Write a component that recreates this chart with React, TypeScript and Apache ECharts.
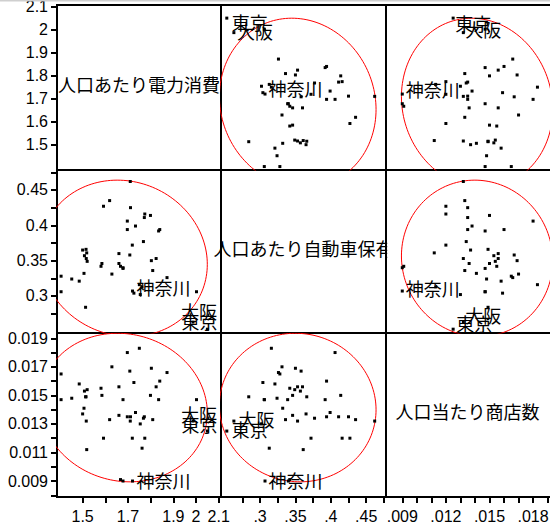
import React, { useEffect, useRef } from 'react';
import * as echarts from 'echarts';

// ---- data -------------------------------------------------------------
const variableNames = ['人口あたり電力消費', '人口あたり自動車保有', '人口当たり商店数'];
// the first three entries of each series are the labelled prefectures
const labeledNames = ['東京', '大阪', '神奈川'];

const electricity = [
  2.050, 1.987, 1.720, 1.750, 1.697, 1.629, 1.803, 1.708, 1.872, 1.405,
  1.726, 1.840, 1.485, 1.660, 1.581, 1.508, 1.520, 1.585, 1.799, 1.405,
  1.452, 1.513, 1.678, 1.835, 2.002, 1.506, 1.500, 1.733, 1.697, 1.711,
  1.660, 1.772, 1.768, 1.809, 1.619, 1.516, 1.710, 1.754, 1.592, 1.719,
  1.774, 1.762, 1.518, 1.667, 1.824, 1.515, 1.678,
];
const cars = [
  0.253, 0.263, 0.307, 0.316, 0.406, 0.331, 0.350, 0.358, 0.326, 0.328,
  0.304, 0.394, 0.321, 0.360, 0.342, 0.357, 0.349, 0.346, 0.414, 0.306,
  0.324, 0.284, 0.339, 0.392, 0.306, 0.332, 0.365, 0.399, 0.394, 0.425,
  0.346, 0.411, 0.377, 0.336, 0.435, 0.353, 0.462, 0.302, 0.427, 0.372,
  0.416, 0.313, 0.361, 0.342, 0.353, 0.366, 0.340,
];
const shops = [
  0.0125, 0.0132, 0.0090, 0.0183, 0.0180, 0.0170, 0.0169, 0.0167, 0.0166, 0.0165,
  0.0159, 0.0160, 0.0158, 0.0156, 0.0155, 0.0153, 0.0154, 0.0150, 0.0150, 0.0147,
  0.0148, 0.0149, 0.0147, 0.0147, 0.0147, 0.0141, 0.0137, 0.0138, 0.0135, 0.0135,
  0.0136, 0.0135, 0.0134, 0.0133, 0.0133, 0.0132, 0.0132, 0.0130, 0.0120, 0.0120,
  0.0120, 0.0113, 0.0112, 0.0091, 0.0156, 0.0149, 0.0090,
];

// tick values and their label texts ('' = tick without label)
const elecTicks = [1.5, 1.6, 1.7, 1.8, 1.9, 2.0, 2.1];
const elecXLabels = ['1.5', '', '1.7', '', '1.9', '2', '2.1'];
const elecYLabels = ['1.5', '1.6', '1.7', '1.8', '1.9', '2', '2.1'];
const carTicks = [0.275, 0.3, 0.325, 0.35, 0.375, 0.4, 0.425, 0.45, 0.475];
const carXLabels = ['', '.3', '', '.35', '', '.4', '', '.45', ''];
const carYLabels = ['', '0.3', '', '0.35', '', '0.4', '', '0.45', ''];
const shopXTicks = [0.009, 0.010, 0.011, 0.012, 0.013, 0.014, 0.015, 0.016, 0.017, 0.018, 0.019];
const shopXLabels = ['.009', '', '', '.012', '', '', '.015', '', '', '.018', ''];
const shopYTicks = [0.008, 0.009, 0.010, 0.011, 0.012, 0.013, 0.014, 0.015, 0.016, 0.017, 0.018, 0.019];
const shopYLabels = ['', '0.009', '', '0.011', '', '0.013', '', '0.015', '', '0.017', '', '0.019'];

// ---- layout / style ----------------------------------------------------
const series3 = [electricity, cars, shops];
const xTickSets = [
  { ticks: elecTicks, labels: elecXLabels },
  { ticks: carTicks, labels: carXLabels },
  { ticks: shopXTicks, labels: shopXLabels },
];
const yTickSets = [
  { ticks: elecTicks, labels: elecYLabels },
  { ticks: carTicks, labels: carYLabels },
  { ticks: shopYTicks, labels: shopYLabels },
];
const xRanges = [[1.387, 2.11], [0.2448, 0.478], [0.00788, 0.01937]];
const yRanges = [[1.39, 2.107], [0.2476, 0.4783], [0.00788, 0.01937]];
const cols = [{ left: 57, width: 164 }, { left: 221, width: 165 }, { left: 386, width: 167 }];
const rows = [{ top: 5, height: 165 }, { top: 170, height: 163 }, { top: 333, height: 164 }];

// label offsets [left of text - point x, text centre - point y] per panel (row,col)
const labelOffsets: Record<string, number[][]> = {
  '01': [[5, 3.5], [3, -2], [3.5, -6.5]],
  '02': [[2, 4.5], [2, -3.5], [3.5, -5]],
  '10': [[-26, -8], [-12, -11], [4, -4]],
  '12': [[3, -6.5], [2, -7], [3.5, -3.5]],
  '20': [[-26, -7], [-12, -7], [4, -1.5]],
  '21': [[5, -2], [4.5, -2.5], [3.5, -1.5]],
};

const NUM_FONT = '"Liberation Sans", Arial, sans-serif';
const JP_FONT = '"Noto Sans CJK JP", "Noto Sans CJK SC", sans-serif';

function densityEllipse(xs: number[], ys: number[], k2 = 5.991, steps = 160) {
  const n = xs.length;
  const mx = xs.reduce((a, b) => a + b, 0) / n;
  const my = ys.reduce((a, b) => a + b, 0) / n;
  let sxx = 0, syy = 0, sxy = 0;
  for (let i = 0; i < n; i++) {
    sxx += (xs[i] - mx) ** 2;
    syy += (ys[i] - my) ** 2;
    sxy += (xs[i] - mx) * (ys[i] - my);
  }
  sxx /= n - 1; syy /= n - 1; sxy /= n - 1;
  const a = Math.sqrt(sxx);
  const b = sxy / a;
  const c = Math.sqrt(Math.max(syy - b * b, 0));
  const k = Math.sqrt(k2);
  const pts: number[][] = [];
  for (let s = 0; s <= steps; s++) {
    const t = (s / steps) * Math.PI * 2;
    pts.push([mx + k * a * Math.cos(t), my + k * (b * Math.cos(t) + c * Math.sin(t))]);
  }
  return pts;
}

function lookup(ticks: number[], labels: string[]) {
  return (v: number) => {
    for (let i = 0; i < ticks.length; i++) if (Math.abs(ticks[i] - v) < 1e-9) return labels[i];
    return '';
  };
}

function buildOption() {
  const grid: any[] = [];
  const xAxis: any[] = [];
  const yAxis: any[] = [];
  const series: any[] = [];
  const graphic: any[] = [];

  for (let r = 0; r < 3; r++) {
    for (let c = 0; c < 3; c++) {
      const g = r * 3 + c;
      grid.push({
        left: cols[c].left, top: rows[r].top, width: cols[c].width, height: rows[r].height,
        show: true, borderColor: '#000', borderWidth: 2, backgroundColor: 'transparent',
        containLabel: false, outerBoundsMode: 'none',
      });
      const showX = r === 2;
      const showY = c === 0;
      const xs = xTickSets[c];
      const ysT = yTickSets[r];
      xAxis.push({
        type: 'value', gridIndex: g, min: xRanges[c][0], max: xRanges[c][1],
        axisLine: { show: false }, splitLine: { show: false },
        axisTick: showX
          ? { show: true, inside: false, length: 6, lineStyle: { color: '#000', width: 2 }, customValues: xs.ticks }
          : { show: false },
        axisLabel: showX
          ? {
              show: true, customValues: xs.ticks.filter((_, i) => xs.labels[i] !== ''),
              formatter: lookup(xs.ticks, xs.labels), color: '#000', fontSize: 16,
              fontFamily: NUM_FONT, margin: 11,
            }
          : { show: false },
      });
      yAxis.push({
        type: 'value', gridIndex: g, min: yRanges[r][0], max: yRanges[r][1],
        axisLine: { show: false }, splitLine: { show: false },
        axisTick: showY
          ? { show: true, inside: false, length: 6, lineStyle: { color: '#000', width: 2 }, customValues: ysT.ticks }
          : { show: false },
        axisLabel: showY
          ? {
              show: true, customValues: ysT.ticks.filter((_, i) => ysT.labels[i] !== ''),
              formatter: lookup(ysT.ticks, ysT.labels), color: '#000', fontSize: 16,
              fontFamily: NUM_FONT, margin: 9,
            }
          : { show: false },
      });

      if (r === c) {
        graphic.push({
          type: 'text',
          x: cols[c].left + cols[c].width / 2 - (c === 2 ? 2 : 0),
          y: rows[r].top + rows[r].height / 2 - 4,
          z: 10,
          style: {
            text: variableNames[r], font: `18px ${JP_FONT}`, fill: '#000',
            align: 'center', verticalAlign: 'middle', textAlign: 'center', textVerticalAlign: 'middle',
          },
        });
        continue;
      }

      const xv = series3[c];
      const yv = series3[r];
      series.push({
        type: 'line', xAxisIndex: g, yAxisIndex: g, data: densityEllipse(xv, yv),
        showSymbol: false, symbol: 'none', clip: true, silent: true, z: 1,
        lineStyle: { color: '#ff0000', width: 1 },
      });
      const offs = labelOffsets[`${r}${c}`];
      const data = xv.map((x, i) => {
        const item: any = { value: [x, yv[i]] };
        if (i < labeledNames.length) {
          item.label = {
            show: true, formatter: labeledNames[i], position: 'right', distance: 0,
            offset: [offs[i][0] - 1.5, offs[i][1]], fontSize: 18, fontFamily: JP_FONT, color: '#000',
            textBorderWidth: 0,
          };
        }
        return item;
      });
      series.push({
        type: 'scatter', xAxisIndex: g, yAxisIndex: g, symbol: 'rect', symbolSize: 3,
        itemStyle: { color: '#000', opacity: 1 }, data, z: 3, silent: true, clip: true,
      });
    }
  }

  // overflow of the long diagonal name into the next cell is hidden, as in the reference
  graphic.push({ type: 'rect', z: 11, shape: { x: 387.2, y: 236, width: 9, height: 22 }, style: { fill: '#fff' } });
  // thin grey band at the top edge
  graphic.push({ type: 'rect', z: 12, shape: { x: 0, y: 0, width: 550, height: 1.5 }, style: { fill: '#cfcfcf' } });

  return { animation: false, backgroundColor: '#fff', grid, xAxis, yAxis, series, graphic };
}

export default function App() {
  const ref = useRef<HTMLDivElement>(null);
  useEffect(() => {
    if (!ref.current) return;
    const chart = echarts.init(ref.current, undefined, { renderer: 'svg' });
    chart.setOption(buildOption() as any);
    return () => chart.dispose();
  }, []);
  return (
    <div
      ref={ref}
      style={{ position: 'absolute', left: 0, top: 0, width: 550, height: 526, overflow: 'hidden', background: '#fff' }}
    />
  );
}
